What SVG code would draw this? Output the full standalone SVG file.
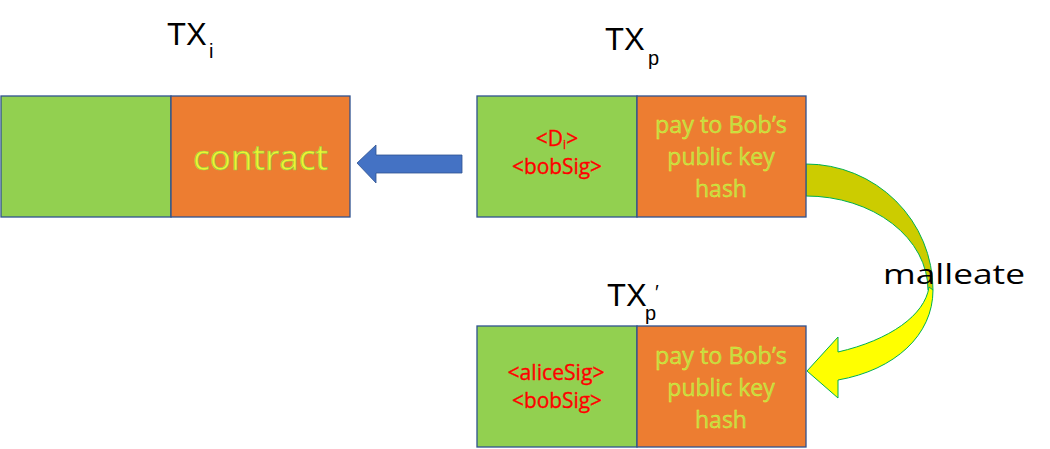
<svg xmlns="http://www.w3.org/2000/svg" width="1050" height="449" viewBox="0 0 1050 449">
<style>
.g{fill:#92D050;stroke:#2F528F;stroke-width:1.3}
.o{fill:#ED7D31;stroke:#2F528F;stroke-width:1.3}
.hdr{font-family:"Liberation Sans",Arial,sans-serif;font-size:31px;fill:#000}
.sub{font-family:"Liberation Sans",Arial,sans-serif;font-size:20px;fill:#000}
.red{font-family:"Open Sans","Liberation Sans",sans-serif;font-size:21px;fill:#FF0000;stroke:#FF0000;stroke-width:0.35;text-anchor:middle}
.pay{font-family:"Open Sans","Liberation Sans",sans-serif;font-size:23px;fill:#BBD845;stroke:#E4F03A;stroke-width:0.4;text-anchor:middle}
.ctr{font-family:"Open Sans","Liberation Sans",sans-serif;font-size:35px;fill:#EEF530;stroke:#9CCB45;stroke-width:0.7;text-anchor:middle}
.mal{font-family:"Open Sans","Liberation Sans",sans-serif;font-size:28px;fill:#000}
</style>
<rect width="1050" height="449" fill="#fff"/>
<g id="connectors">
<path id="arrow-blue" d="M357,163 L376,145 L376,155 L462,155 L462,173 L376,173 L376,183 Z" fill="#4472C4" stroke="#2F528F" stroke-width="0.8"/>
<g id="arrow-malleate" stroke="#00B050" stroke-width="1">
<path d="M806,164 A127,126 0 0 1 933,290 L928,290 A122,94 0 0 0 806,196 Z" fill="#CCCC00"/>
<path d="M929,287 C925,315 890,340 838,352 L838,337 L807,371 L838,398 L838,380 C895,370 933,335 933,290 Z" fill="#FFFF00"/>
</g>
</g>
<g id="node-txi">
<text class="hdr" x="167" y="45">TX</text><text class="sub" x="209" y="58">i</text>
<rect class="g" x="1" y="96" width="170" height="121"/>
<rect class="o" x="171" y="96" width="179" height="121"/>
<text class="ctr" x="260.5" y="170" textLength="135" lengthAdjust="spacingAndGlyphs">contract</text>
</g>
<g id="node-txp">
<text class="hdr" x="605" y="50">TX</text><text class="sub" x="648" y="65">p</text>
<rect class="g" x="477" y="96" width="160" height="121"/>
<rect class="o" x="637" y="96" width="169" height="121"/>
<text class="red" x="557" y="146">&lt;D<tspan font-size="12" dy="3">i</tspan><tspan dy="-3">&gt;</tspan></text>
<text class="red" x="557" y="174" textLength="90" lengthAdjust="spacingAndGlyphs">&lt;bobSig&gt;</text>
<text class="pay" x="721" y="133" textLength="132" lengthAdjust="spacingAndGlyphs">pay to Bob’s</text>
<text class="pay" x="721" y="165">public key</text>
<text class="pay" x="721" y="197">hash</text>
</g>
<g id="node-txp2">
<text class="hdr" x="607" y="306">TX</text><text class="sub" x="645" y="320">p</text><text class="sub" x="655" y="299">′</text>
<rect class="g" x="477" y="326" width="160" height="121"/>
<rect class="o" x="637" y="326" width="169" height="121"/>
<text class="red" x="556" y="380" textLength="97" lengthAdjust="spacingAndGlyphs">&lt;aliceSig&gt;</text>
<text class="red" x="557" y="408" textLength="90" lengthAdjust="spacingAndGlyphs">&lt;bobSig&gt;</text>
<text class="pay" x="721" y="364" textLength="132" lengthAdjust="spacingAndGlyphs">pay to Bob’s</text>
<text class="pay" x="721" y="396">public key</text>
<text class="pay" x="721" y="428">hash</text>
</g>
<g id="label-malleate">
<text class="mal" x="883" y="284" textLength="142" lengthAdjust="spacingAndGlyphs">malleate</text>
</g>
</svg>
